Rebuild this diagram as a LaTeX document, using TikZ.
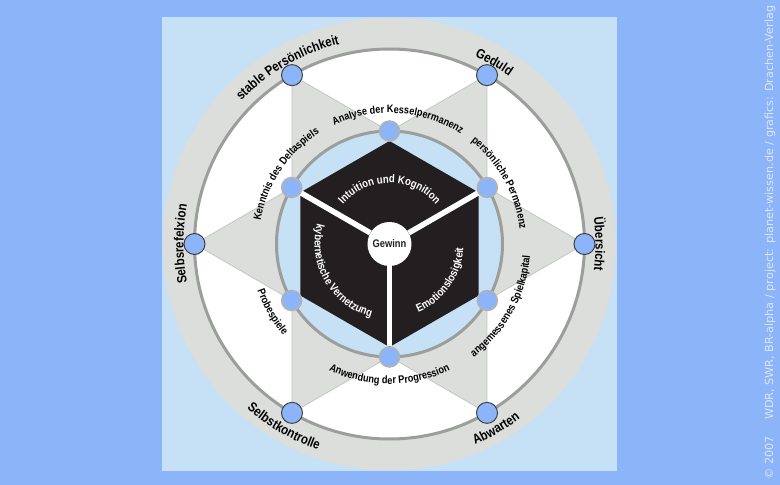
\documentclass[tikz,border=0pt]{standalone}
\usepackage{fontspec}
\setmainfont{Liberation Sans}[FakeStretch=0.85]
\newfontfamily\creditfont{DejaVu Sans}
\usetikzlibrary{decorations.text,backgrounds}
\definecolor{skyback}{RGB}{140,180,248}
\definecolor{panelblue}{RGB}{198,225,245}
\definecolor{ringgray}{RGB}{220,222,220}
\definecolor{linegray}{RGB}{156,158,156}
\definecolor{hexgray}{RGB}{196,198,196}
\definecolor{cubeblack}{RGB}{35,31,32}
\definecolor{nodeblue}{RGB}{140,180,248}
\definecolor{creditblue}{RGB}{218,230,252}
\newcommand\outerfont{\bfseries\fontsize{13.5}{15}\selectfont}
\newcommand\innerfont{\bfseries\fontsize{10.8}{12}\selectfont}
\newcommand\cubefont{\bfseries\fontsize{11.3}{13}\selectfont}

\begin{document}
\begin{tikzpicture}[%
    x=1pt, y=1pt,
    outerdot/.style={circle, draw=black!75, line width=1pt, fill=nodeblue, minimum size=21pt, inner sep=0pt},
    innerdot/.style={circle, draw=black!30, line width=1.5pt, fill=nodeblue, minimum size=20pt, inner sep=0pt},
    hexline/.style={draw=hexgray, line width=0.8pt},
    spoke/.style={draw=white, line width=5.5pt},
    ringline/.style={draw=linegray, line width=3pt},
    curved/.style={decorate, decoration={text along path, text align=center, #1}},
    ]
    \useasboundingbox (-389.5,-241) rectangle (390.5,244);
    \node[outerdot] (stabil) at (120:195) {};
    \node[outerdot] (geduld) at (60:195) {};
    \node[outerdot] (ueber) at (0:195) {};
    \node[outerdot] (abwarten) at (300:195) {};
    \node[outerdot] (kontrolle) at (240:195) {};
    \node[outerdot] (reflexion) at (180:195) {};
    \node[innerdot] (analyse) at (90:113) {};
    \node[innerdot] (permanenz) at (30:113) {};
    \node[innerdot] (kapital) at (330:113) {};
    \node[innerdot] (progression) at (270:113) {};
    \node[innerdot] (probe) at (210:113) {};
    \node[innerdot] (delta) at (150:113) {};
    \node[circle, fill=white, minimum size=44pt, inner sep=0pt, text=cubeblack, font=\bfseries\fontsize{11}{12}\selectfont] (gewinn) at (0,0) {Gewinn};
    \begin{scope}[on background layer]
    \fill[skyback] (-389.5,-241) rectangle (390.5,244);
    \fill[panelblue] (-227.5,-227) rectangle (227.5,227);
    \fill[ringgray] (0,0) circle[radius=226.5pt];
    \fill[white] (0,0) circle[radius=195pt];
    \fill[ringgray] (120:195) -- (0:195) -- (240:195) -- cycle;
    \fill[ringgray] (60:195) -- (180:195) -- (300:195) -- cycle;
    \draw[hexline] (stabil.center) -- (ueber.center) -- (kontrolle.center) -- cycle;
    \draw[hexline] (geduld.center) -- (reflexion.center) -- (abwarten.center) -- cycle;
    \draw[ringline] (0,0) circle[radius=195pt];
    \draw[ringline, fill=panelblue] (0,0) circle[radius=113pt];
    \fill[cubeblack] (90:103) -- (150:103) -- (210:103) -- (270:103) -- (330:103) -- (30:103) -- cycle;
    \draw[spoke] (gewinn) -- (delta);
    \draw[spoke] (gewinn) -- (permanenz);
    \draw[spoke] (gewinn) -- (progression);
    \end{scope}
    \path[curved={text={|\outerfont|stable Persönlichkeit}}] (160:206pt) arc[start angle=160, end angle=80, radius=206pt];
    \path[curved={text={|\outerfont|Geduld}}] (100:206pt) arc[start angle=100, end angle=20, radius=206pt];
    \path[curved={text={|\outerfont|Übersicht}}] (40:206pt) arc[start angle=40, end angle=-40, radius=206pt];
    \path[curved={text={|\outerfont|Selbsrefelxion}}] (220:206pt) arc[start angle=220, end angle=140, radius=206pt];
    \path[curved={text={|\outerfont|Selbstkontrolle}}] (200:218pt) arc[start angle=200, end angle=280, radius=218pt];
    \path[curved={text={|\outerfont|Abwarten}}] (260:218pt) arc[start angle=260, end angle=340, radius=218pt];
    \path[curved={text={|\innerfont|Analyse der Kesselpermanenz}}] (141:131pt) arc[start angle=141, end angle=31, radius=131pt];
    \path[curved={text={|\innerfont|Kenntnis des Deltaspiels}}] (196:131pt) arc[start angle=196, end angle=96, radius=131pt];
    \path[curved={text={|\innerfont|persönliche Permanenz}}] (79:131pt) arc[start angle=79, end angle=-21, radius=131pt];
    \path[curved={text={|\innerfont|Probespiele}}] (170:140pt) arc[start angle=170, end angle=250, radius=140pt];
    \path[curved={text={|\innerfont|Anwendung der Progression}}] (215:140pt) arc[start angle=215, end angle=325, radius=140pt];
    \path[curved={text={|\innerfont|angemessenes Spielkapital}}] (281:141pt) arc[start angle=281, end angle=381, radius=141pt];
    \path[curved={text color=white, text={|\cubefont|Intuition und Kognition}}] (145:61pt) arc[start angle=145, end angle=35, radius=61pt];
    \path[curved={text color=white, text={|\cubefont|kybernetische Vernetzung}}] (155:75pt) arc[start angle=155, end angle=265, radius=75pt];
    \path[curved={text color=white, text={|\cubefont|Emotionslosigkeit}}] (280:74pt) arc[start angle=280, end angle=370, radius=74pt];
    \node[rotate=90, text=creditblue, font=\creditfont\fontsize{11.2}{13}\selectfont] (credit) at (380.5,1.5) {© 2007\hspace{16pt}WDR, SWR, BR-alpha / project: planet-wissen.de / grafics: Drachen-Verlag};
    \end{tikzpicture}
\end{document}
